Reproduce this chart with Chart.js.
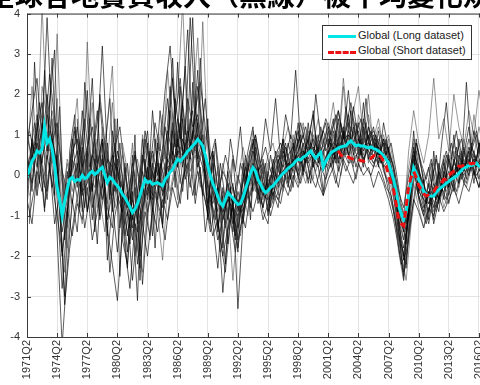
<!DOCTYPE html>
<html>
<head>
<meta charset="utf-8">
<script src="https://cdn.jsdelivr.net/npm/chart.js@4.4.1/dist/chart.umd.min.js"></script>
<style>
  html, body { margin: 0; padding: 0; background: #fff; }
  #wrap { position: relative; width: 480px; height: 385px; overflow: hidden; }
  #titulo {
    position: absolute; left: -13px; top: -20px; white-space: nowrap;
    font: bold 28px "Noto Sans CJK TC", sans-serif; line-height: 28px; color: #000; z-index: 2;
  }
  #grafico { position: absolute; left: 0; top: 0; }
  #legenda {
    position: absolute; left: 322px; top: 25px; width: 148px; height: 33px;
    border: 1px solid #333; background: #fff; z-index: 3;
    font: 11px "Liberation Sans", Arial, sans-serif; color: #222;
  }
  .linha { position: absolute; left: 5px; width: 28px; height: 0; }
  .txt { position: absolute; left: 35px; }
</style>
</head>
<body>
<div id="wrap">
  <div id="titulo">全球各地實質收入（黑線）被平均變化規律所解釋</div>
  <canvas id="grafico" width="500" height="385"></canvas>
  <div id="legenda">
    <div class="linha" style="top:9px;border-top:3px solid #00e5e5;"></div>
    <div class="txt" style="top:3px;">Global (Long dataset)</div>
    <div class="linha" style="top:25px;border-top:3px dashed #ee1111;"></div>
    <div class="txt" style="top:18px;">Global (Short dataset)</div>
  </div>
</div>
<script>
// rótulos do eixo x (a cada 12 trimestres)
const tickLabels = ["1971Q2","1974Q2","1977Q2","1980Q2","1983Q2","1986Q2","1989Q2","1992Q2",
    "1995Q2","1998Q2","2001Q2","2004Q2","2007Q2","2010Q2","2013Q2","2016Q2"];
const xMax = 184;          // ultimo trimestre (indice a partir de 1971Q2)
const shortStart = 124;    // 2002Q2, inicio da serie curta
const paisesPasso = 2;     // series dos paises lidas a cada 2 trimestres

// Global (Long dataset) - trimestral
const globalLong = [
 -0.05,0.15,0.35,0.45,0.6,0.55,0.65,1.2,0.8,0.9,
 0.65,0.25,-0.3,-0.6,-1.0,-0.65,-0.35,-0.1,-0.05,-0.15,
 -0.1,-0.12,0,-0.08,-0.05,0.05,0.1,0.02,0.07,0.15,
 0.2,0.0,-0.18,-0.05,-0.1,-0.2,-0.26,-0.35,-0.47,-0.55,
 -0.67,-0.78,-0.92,-0.84,-0.7,-0.5,-0.3,-0.1,-0.18,-0.15,
 -0.22,-0.2,-0.18,-0.22,-0.26,-0.1,-0.02,0.08,0.15,0.28,
 0.4,0.35,0.42,0.5,0.6,0.65,0.73,0.8,0.89,0.82,
 0.73,0.5,0.23,0.0,-0.2,-0.35,-0.52,-0.68,-0.76,-0.6,
 -0.43,-0.5,-0.56,-0.65,-0.72,-0.7,-0.55,-0.35,-0.15,0.05,
 0.19,0.1,-0.1,-0.22,-0.35,-0.43,-0.38,-0.3,-0.26,-0.18,
 -0.1,-0.02,0.05,0.1,0.18,0.22,0.27,0.35,0.4,0.38,
 0.45,0.48,0.55,0.6,0.5,0.42,0.5,0.56,0.2,0.35,
 0.45,0.55,0.6,0.63,0.68,0.7,0.72,0.73,0.8,0.85,
 0.78,0.73,0.75,0.72,0.73,0.7,0.68,0.7,0.66,0.64,
 0.6,0.55,0.48,0.4,0.31,0.1,-0.1,-0.4,-0.76,-0.95,
 -1.09,-0.92,-0.5,-0.18,0.19,0.05,-0.1,-0.25,-0.4,-0.47,
 -0.5,-0.52,-0.51,-0.42,-0.35,-0.3,-0.25,-0.2,-0.15,-0.1,
 -0.06,-0.02,0.05,0.12,0.19,0.2,0.25,0.24,0.27,0.3,
 0.23,0.25,0.22,0.24,0.2
];

// Global (Short dataset) - a partir de 2002Q2
const globalShort = [
 0.6,0.5,0.45,0.43,0.45,0.42,0.4,0.38,0.4,0.36,
 0.35,0.38,0.4,0.42,0.48,0.52,0.52,0.45,0.35,0.23,
 0.0,-0.2,-0.35,-0.7,-1.1,-1.2,-1.25,-0.8,-0.26,-0.05,
 0.1,-0.05,-0.25,-0.35,-0.45,-0.51,-0.48,-0.43,-0.4,-0.3,
 -0.25,-0.2,-0.1,-0.1,0.0,0.05,0.1,0.15,0.23,0.22,
 0.25,0.28,0.3,0.28,0.3,0.27,0.3,0.28,0.3,0.28,0.27
];

// paises (linhas pretas) - grupo A começa em 1971Q2
const pais1 = [0.8,1.6,2.4,0.9,3.9,1.2,-0.6,-2.8,-1.1,0.4, 1.2,0.3,2.1,-0.4,0.8,3.2,0.5,-0.9,1.4,-1.6,
 -2.2,-0.8,-3.1,0.2,1.1,-0.5,0.6,-1.2,0.9,2.4, 0.7,1.8,3.6,0.9,2.2,1.1,-0.8,0.5,-1.4,-0.3,
 -1.1,0.4,-0.9,-0.2,0.6,1.2,-0.3,-0.8,0.1,-0.6, 0.3,0.9,-0.2,0.6,1.1,0.4,0.9,1.5,0.3,0.8,
 1.2,0.5,1.6,0.9,2.1,0.8,1.3,0.6,1.0,0.4, 1.1,0.2,-0.4,-0.9,-1.6,-2.4,-0.8,0.7,-0.5,-0.9,
 -0.2,-1.1,0.3,-0.6,0.5,-0.3,0.9,0.1,0.6,-0.2,0.8,0.3,0.5];
const pais2 = [-0.3,0.4,1.1,1.8,0.6,2.9,0.2,-1.4,-0.6,0.9, -0.2,1.6,0.3,-1.1,0.2,0.9,-2.1,-0.7,0.4,-0.3,
 -0.9,-2.6,-1.3,-0.6,0.8,-1.5,-0.4,0.7,1.9,0.3, 2.8,0.4,1.2,3.9,0.6,-0.5,1.4,-1.2,-2.3,-0.8,
 -0.2,-1.4,-0.6,-1.2,0.3,-0.4,0.2,-0.9,-1.2,0.1, -0.5,0.6,0.2,-0.3,0.9,0.1,1.3,0.2,0.7,-0.4,
 0.8,1.4,0.3,1.1,0.5,1.7,0.9,0.2,1.2,0.8, 0.3,0.9,0.6,0.2,-1.2,-1.8,-1.0,0.4,0.1,-0.7,
 -1.2,-0.4,-0.9,0.1,-0.3,0.4,0.0,0.7,0.2,1.1,0.4,-0.1,0.6];
const pais3 = [1.2,0.2,-0.5,2.2,1.4,0.3,1.9,-0.2,-1.8,0.2, -0.6,-1.2,0.7,1.8,-0.8,0.4,1.3,2.7,-0.5,0.6,
 -0.4,0.8,-1.8,-2.4,-0.7,0.5,-0.9,-2.1,-0.3,0.8, -0.6,1.3,0.2,2.1,0.5,3.8,0.7,-0.6,0.2,-1.7,
 -0.8,-2.6,-1.1,-0.4,-1.0,0.5,-0.6,0.3,-0.2,-0.7, 0.2,-0.4,0.5,0.1,-0.2,0.8,0.4,-0.1,0.9,0.5,
 0.1,0.9,1.3,0.4,0.8,0.2,1.5,1.1,0.3,0.9, 1.4,0.6,0.9,-0.4,-1.9,-2.6,-1.4,-0.2,-0.8,-1.3,
 -0.5,-0.9,-0.1,-0.8,-0.4,0.2,-0.3,0.5,0.9,0.2,0.6,1.0,0.4];
const pais4 = [0.5,-0.2,0.8,0.3,1.5,0.9,0.2,-1.1,-0.3,0.2, 0.6,-0.4,-0.2,0.5,0.1,-0.6,0.4,0.2,-0.5,-0.9,
 -0.4,-1.3,-0.7,0.1,-0.6,0.3,-0.3,-0.8,0.4,0.1, 0.9,0.2,1.1,0.5,1.3,0.4,-0.2,-0.7,-0.3,-1.1,
 -0.6,-0.2,-1.3,-0.7,0.1,0.6,0.2,-0.5,-0.1,-0.3, 0.4,-0.2,0.5,0.7,0.1,0.8,0.3,0.6,1.0,0.2,
 0.6,0.3,0.9,1.2,0.5,0.8,1.1,0.4,0.7,1.0, 0.5,0.8,0.1,-0.3,-0.9,-1.4,-0.3,0.5,0.2,-0.4,
 -0.7,-0.2,-0.6,0.0,-0.2,0.3,0.1,0.4,0.0,0.5,0.2,0.7,0.3];
const pais5 = [-0.8,0.9,0.2,1.3,-0.4,0.7,-1.5,-4.2,-2.3,-0.6, -1.4,0.3,-0.9,-0.2,-1.7,0.5,-0.8,-1.3,0.2,-0.6,
 -1.9,-0.4,-2.2,-1.0,0.2,-0.9,0.8,0.1,-0.6,1.1, 0.3,-0.4,0.9,1.6,0.2,0.8,-1.1,-0.4,-0.9,-2.9,
 -1.4,-0.6,-1.8,-0.9,-0.2,0.3,-0.7,-0.2,-0.9,-0.4, -0.8,0.1,-0.3,0.4,0.0,0.6,-0.2,0.5,0.2,-0.5,
 0.3,0.7,0.1,0.5,1.0,0.3,0.6,1.2,0.4,0.2, 0.7,0.1,-0.2,-0.8,-1.5,-2.1,-0.9,0.3,-0.3,-0.8,
 -0.4,-1.2,-0.6,-0.2,-0.7,-0.1,0.3,-0.2,0.4,0.1,-0.3,0.5,0.1];
const pais6 = [0.2,0.6,1.0,-0.1,0.7,1.6,0.9,-0.7,0.3,-0.4, 0.4,1.0,-0.5,0.3,0.9,-0.2,0.6,-0.5,0.2,0.8,
 0.1,-0.6,0.4,-0.3,-1.1,0.2,1.0,0.4,2.6,1.1, 1.9,4.3,0.8,1.7,3.4,0.6,1.2,0.1,-0.6,0.3,
 -0.4,0.5,-0.2,0.7,0.2,1.1,0.4,-0.1,0.5,0.8, 0.1,0.7,1.2,0.4,0.9,1.3,0.6,1.0,0.4,0.8,
 1.3,0.8,0.3,0.9,1.4,0.6,1.0,0.5,1.2,0.7, 0.4,1.0,0.5,0.0,-0.6,-1.0,0.2,0.9,0.4,0.0,
 -0.3,0.3,-0.2,0.5,0.2,0.8,0.4,0.1,0.9,0.5,1.2,0.6,0.8];
const pais7 = [-0.6,-1.2,0.1,-0.4,0.5,-0.2,-1.0,-1.9,-0.8,-1.5, -0.7,-1.1,-0.3,-1.6,-0.9,-0.2,-1.3,-2.2,-3.1,-1.4,
 -0.9,-1.6,-0.5,-1.2,-2.0,-0.8,-1.4,-0.6,-1.1,-0.3, -0.8,-0.1,0.3,-0.5,0.1,-0.4,-0.9,-1.5,-1.1,-2.0,
 -1.3,-0.8,-1.6,-1.0,-0.5,-0.9,-0.4,-1.1,-0.7,-0.3, -0.6,-0.2,-0.5,0.0,-0.3,0.2,-0.1,0.3,-0.2,-0.5,
 -0.1,0.2,-0.3,0.4,0.1,-0.2,0.3,0.0,0.2,-0.3, 0.1,-0.2,-0.6,-1.1,-1.8,-2.5,-1.6,-0.6,-0.9,-1.3,
 -0.8,-1.0,-0.5,-0.9,-0.6,-0.3,-0.7,-0.2,-0.4,0.1,-0.3,0.2,-0.1];
const pais8 = [1.0,0.4,1.5,0.7,2.0,0.8,1.3,0.1,-0.4,0.6, 0.9,0.2,0.7,1.2,0.3,0.9,-0.1,0.5,0.0,-0.3,
 -0.8,0.3,-0.4,0.5,-0.1,0.6,0.0,0.4,1.1,0.5, 1.4,0.6,1.9,1.2,1.5,0.7,0.2,0.6,-0.4,0.1,
 -0.2,-0.7,0.0,-0.5,0.4,0.9,0.1,0.3,-0.4,0.2, 0.5,0.2,0.8,0.3,0.6,1.0,0.5,0.9,0.6,1.1,
 0.7,1.2,1.6,0.9,1.3,1.0,0.7,1.4,0.9,1.1, 0.8,0.4,0.7,0.2,-0.4,-0.8,0.0,0.6,0.1,-0.2,
 0.2,-0.5,0.1,-0.3,0.4,0.0,0.5,0.2,0.7,0.3,0.6,0.9,0.4];
const pais9 = [0.3,2.2,0.6,4.2,1.1,0.5,3.5,0.2,-1.3,0.8, 1.9,-0.4,3.3,0.6,-0.5,1.2,0.3,1.8,-0.2,0.5,
 -1.0,0.4,-0.6,1.0,0.3,-0.8,0.5,1.5,-0.4,0.6, 1.1,-0.2,0.7,0.3,1.4,0.5,-0.5,0.2,-0.9,-0.4,
 -1.0,-0.3,-0.8,0.2,-0.4,0.4,0.0,-0.6,0.3,-0.1, 0.6,0.0,0.4,1.0,0.3,0.7,1.1,0.2,0.6,0.9,
 0.4,1.0,0.6,2.2,0.8,1.4,0.5,0.9,2.0,0.6, 0.9,0.3,0.5,-0.1,-0.8,-1.6,-0.5,0.8,0.0,-0.5,
 -0.3,0.4,-0.5,0.2,-0.1,0.6,0.2,0.9,0.3,1.5,0.7,0.4,1.0];
const pais10 = [-0.2,0.8,-0.5,0.4,1.0,-0.3,0.5,-1.0,0.1,-0.7, 0.3,-0.5,0.6,-0.8,-0.2,0.4,-1.1,-0.4,0.6,0.0,
 -1.5,-0.6,-1.1,-0.2,-0.9,-0.3,0.3,-0.5,0.0,0.6, 0.2,0.9,0.4,1.1,0.6,0.2,-0.3,-0.9,-1.6,-1.1,
 -0.5,-1.2,-0.4,-0.9,-0.3,0.2,-0.4,-0.8,-0.2,-0.5, 0.0,-0.3,0.3,0.1,0.5,0.2,0.7,0.4,0.2,0.6,
 0.9,0.4,0.8,0.5,1.1,0.7,0.4,0.9,0.6,0.3, 0.6,0.2,0.4,-0.3,-1.0,-1.3,-0.7,0.1,-0.4,-0.6,
 -0.9,-0.3,-0.6,-0.2,0.1,-0.4,0.2,0.0,0.3,0.6,0.1,0.4,0.2];
const pais11 = [0.6,-0.4,1.3,0.2,-0.6,0.9,0.3,-2.0,-0.9,0.4, -0.3,0.7,-0.9,0.5,1.6,-0.3,0.8,-0.7,-1.9,-0.6,
 0.3,-1.1,-0.4,-2.7,-1.0,0.1,-0.6,0.5,-0.2,1.3, 0.5,1.8,0.6,0.9,2.6,0.3,-0.7,0.3,-1.3,-0.5,
 -1.7,-0.6,-3.3,-1.2,-0.3,0.1,-0.5,0.4,-0.3,0.2, -0.2,0.5,0.1,0.8,-0.1,0.4,0.9,0.3,0.6,0.1,
 0.5,1.1,0.4,0.7,1.5,0.5,0.9,0.3,0.8,1.2, 0.4,0.9,0.3,-0.5,-1.4,-2.0,-0.9,0.2,-0.6,-1.0,
 -0.4,-0.8,-0.2,0.3,-0.5,0.1,-0.2,0.6,0.1,0.4,-0.1,0.5,0.2];
const pais12 = [0.1,0.5,-0.3,0.9,0.4,1.4,-0.2,-0.9,0.4,-0.1, 0.2,0.9,0.1,-0.4,0.5,0.0,-0.7,0.6,0.3,-1.2,
 -0.5,0.1,-1.0,-0.4,0.2,-0.2,0.4,-0.3,0.6,0.2, 0.8,0.3,0.5,1.0,0.2,0.6,0.0,-0.4,0.1,-0.6,
 -0.9,-0.3,-0.7,-0.1,-0.5,0.6,-0.2,0.1,-0.6,0.0, 0.3,0.7,0.1,0.9,0.5,1.2,0.6,0.8,1.4,0.7,
 1.0,1.8,0.8,2.4,1.1,1.6,2.2,0.9,1.5,0.8, 1.2,0.7,1.0,0.3,-0.5,-1.1,0.6,1.6,0.8,0.3,
 1.0,2.4,0.9,1.4,0.6,2.0,1.2,0.7,1.6,1.0,2.1,1.3,0.9];
const pais13 = [null,null,null,null,null,null,null,null,null,null, null,null,null,null,null,null,null,null,null,null,
 -0.6,-1.0,-1.4,-0.8,-0.3,-0.6,-0.1,-0.4,0.2,0.3, 0.6,0.5,0.9,0.7,1.0,0.8,0.3,-0.3,-0.7,-0.9,
 -0.6,-0.8,-1.0,-0.7,-0.3,0.3,-0.2,-0.5,-0.6,-0.3, -0.1,0.1,0.3,0.2,0.5,0.6,0.4,0.7,0.5,0.3,
 0.6,0.8,0.7,0.9,1.0,0.8,0.9,0.7,0.8,0.6, 0.7,0.5,0.3,-0.2,-1.1,-1.6,-0.8,0.3,-0.2,-0.6,
 -0.7,-0.5,-0.3,-0.4,-0.1,0.0,0.2,0.3,0.2,0.4,0.3,0.2,0.5];
const pais14 = [null,null,null,null,null,null,null,null,null,null, 1.4,-0.9,0.6,2.4,-0.3,0.8,-1.5,1.1,0.2,-0.8,
 -2.3,0.5,-1.2,0.9,-0.5,1.6,0.1,-1.3,0.7,2.9, 0.2,1.4,-0.6,2.3,0.4,1.0,-1.0,0.6,-0.3,-1.8,
 0.1,-0.8,-1.9,0.3,-0.4,0.8,-0.6,0.2,-1.0,0.4, -0.3,0.9,-0.1,0.4,1.3,0.0,0.7,1.6,0.3,0.5,
 1.1,0.2,1.4,0.6,0.3,1.2,0.5,1.8,0.4,0.9, 0.2,1.3,0.6,-0.2,-1.3,-2.6,-0.6,1.1,-0.4,-0.1,
 -1.1,0.6,-0.7,0.4,-0.3,1.0,-0.2,0.5,1.2,0.0,0.8,-0.4,0.6];

// grupo B começa em 1971Q3 (trimestres intercalados)
const pais15 = [0.4,1.3,-0.2,2.6,0.8,-0.5,1.7,-1.6,-0.3,1.1, 0.2,-0.8,1.4,0.3,-1.0,0.6,1.9,-0.4,0.8,-1.1,
 -1.7,-0.3,-2.0,0.4,-0.6,0.9,-0.2,1.2,0.4,1.9, 0.9,2.7,0.4,1.6,0.8,1.9,0.1,-0.8,-0.2,-1.3,
 -0.7,-1.5,-0.4,0.2,-0.8,0.7,0.1,-0.4,0.5,-0.2, 0.4,0.8,-0.1,0.6,1.0,0.3,0.8,0.5,1.2,0.6,
 0.9,0.4,1.3,0.7,1.6,0.9,0.5,1.1,0.6,0.9, 0.3,0.7,0.2,-0.6,-1.7,-2.2,-0.4,0.9,0.2,-0.6,
 -0.3,0.5,-0.4,0.3,0.8,0.1,0.6,-0.1,0.7,1.1,0.4,0.8];
const pais16 = [-0.5,0.2,0.9,-0.3,1.1,0.4,-0.9,-2.4,-1.3,-0.2, -0.9,0.5,-0.4,0.9,-0.6,-1.4,0.3,-0.8,-0.2,-1.5,
 -0.8,-2.0,-1.2,-0.3,-1.6,-0.5,-1.0,0.2,-0.4,0.3, -0.2,0.8,0.1,0.5,-0.3,0.6,-0.6,-1.0,-1.9,-1.2,
 -0.4,-1.0,-1.5,-0.6,0.0,-0.4,0.3,-0.3,-0.8,-0.4, -0.2,0.3,-0.1,0.5,0.2,-0.2,0.4,0.1,0.6,0.3,
 0.2,0.5,0.0,0.7,0.3,0.5,0.1,0.6,0.4,0.2, 0.5,0.0,-0.3,-0.9,-1.9,-2.6,-1.2,-0.3,-0.7,-1.1,
 -0.6,-0.9,-0.4,-0.7,-0.2,-0.5,0.0,-0.3,0.2,-0.1,0.3,0.0];
const pais17 = [1.1,0.5,1.8,0.9,2.5,1.4,0.6,-0.5,0.3,1.2, 0.5,1.4,0.2,0.9,1.8,0.4,-0.3,0.7,1.2,0.1,
 -0.6,0.5,-0.2,0.9,0.2,1.3,0.6,2.1,3.2,1.4, 2.4,1.0,3.9,1.6,2.3,1.2,0.4,0.9,-0.2,0.5,
 0.0,-0.6,0.3,-0.2,0.6,1.0,0.3,0.7,0.1,0.5, 0.8,0.4,1.0,0.6,1.3,0.7,1.1,0.5,0.9,1.4,
 1.0,1.5,0.7,1.2,1.8,1.0,1.4,0.8,1.1,0.6, 1.0,0.5,0.8,0.1,-0.7,-1.2,0.1,0.8,0.3,-0.1,
 0.4,-0.3,0.2,0.6,0.1,0.5,0.9,0.3,0.7,0.4,1.0,0.6];
const pais18 = [-1.0,-0.3,0.6,-0.8,0.3,-1.2,-0.5,-3.2,-1.8,-0.9, -0.2,-1.3,-0.5,0.4,-1.1,-0.3,-2.4,-1.0,-0.4,-1.8,
 -2.8,-1.2,-2.3,-0.9,-1.5,-0.4,-0.9,-1.6,-0.5,0.1, -0.7,0.4,-0.3,0.8,0.0,-0.6,-1.4,-0.8,-1.6,-2.4,
 -1.1,-1.9,-0.8,-1.3,-0.4,-0.1,-0.7,-0.3,-1.0,-0.5, -0.7,0.0,-0.4,0.2,-0.2,0.4,0.0,-0.3,0.2,-0.1,
 0.3,-0.2,0.5,0.1,0.4,-0.1,0.6,0.2,0.0,0.4, 0.1,-0.3,-0.5,-1.3,-2.2,-1.9,-1.0,-0.2,-0.8,-1.2,
 -0.5,-0.8,-0.3,-0.6,0.0,-0.4,0.1,-0.2,0.3,0.0,0.2,-0.1];
const pais19 = [0.2,0.7,0.4,1.0,0.6,1.3,0.2,-0.6,-0.1,0.3, -0.2,0.4,0.0,-0.3,0.5,0.1,-0.4,0.3,-0.1,-0.6,
 -0.9,-0.3,-0.7,0.0,-0.4,0.2,-0.1,0.3,0.1,0.5, 0.3,0.8,0.5,1.0,0.7,0.4,-0.1,-0.5,-0.9,-0.6,
 -1.0,-0.5,-0.8,-0.2,-0.5,0.1,-0.2,-0.4,0.0,-0.2, 0.1,0.3,0.2,0.5,0.3,0.7,0.5,0.6,0.9,0.4,
 0.7,0.9,0.6,1.0,0.8,0.6,0.9,0.7,0.5,0.8, 0.4,0.6,0.1,-0.4,-1.2,-1.5,-0.5,0.2,-0.3,-0.5,
 -0.4,-0.6,-0.2,-0.4,0.0,0.2,0.0,0.3,0.1,0.4,0.2,0.3];
const pais20 = [null,null,null,null,null,null,null,null,null,null, null,null,null,null,null,null,
 -0.5,0.8,-1.3,0.2,-0.9, 0.6,-0.4,1.1,0.3,-0.2,1.6,0.4,2.2,0.7,1.3, -0.1,0.5,-0.7,0.2,-1.4,-0.5,-1.1,0.3,-0.6,0.9,
 0.1,1.2,-0.3,0.5,1.0,0.2,1.4,0.6,1.9,0.4, 1.5,0.9,2.6,0.8,1.2,0.5,2.0,0.9,1.3,0.2,
 1.1,0.4,1.7,0.8,1.3,0.6,1.9,0.7,1.0,0.4, 0.9,0.2,-0.4,-1.6,-2.3,-0.7,0.8,0.2,-0.5,0.3,
 -0.6,0.7,1.8,0.4,1.1,0.2,2.3,0.6,1.0,0.3,1.6];
const pais21 = [-1.2,2.8,0.4,-0.9,1.8,3.1,-0.8,-3.0,0.6,1.5, -0.8,2.3,0.5,-1.4,2.0,0.8,-0.6,1.4,-2.5,0.3,
 -1.3,1.0,-2.6,-0.4,0.6,-1.8,0.3,-0.7,1.6,-0.3, 2.2,0.4,1.4,-0.5,2.9,0.6,-1.2,0.8,-0.6,-2.2,
 -0.3,-1.6,-0.7,0.5,-1.1,0.9,-0.4,0.3,-0.8,0.6, -0.1,0.7,0.2,1.1,0.3,0.6,-0.2,1.0,0.5,0.2,
 0.8,0.3,1.0,0.5,0.9,0.2,0.7,1.3,0.5,0.8, 0.3,0.8,0.4,-0.2,-1.0,-1.7,-0.4,0.6,-0.2,-0.7,
 -0.2,0.4,-0.4,0.5,0.0,0.7,-0.1,0.4,0.8,0.2,0.5,0.7];
const pais22 = [null,null,null,null,null,null,null,null,null,null, null,null,null,null,null,null,null,null,null,null,
 null,null,null,null,-0.2,0.1,-0.3,0.2,0.5,0.3, 0.7,0.5,0.9,0.6,0.8,0.4,0.1,-0.3,-0.6,-0.8,
 -0.5,-0.7,-0.9,-0.4,-0.2,0.2,-0.1,-0.3,-0.4,-0.2, 0.0,0.2,0.1,0.4,0.3,0.5,0.4,0.6,0.7,0.4,
 0.5,0.7,0.8,0.6,0.9,0.7,0.8,0.6,0.7,0.5, 0.6,0.4,0.2,-0.3,-0.9,-1.4,-0.6,0.2,-0.1,-0.4,
 -0.5,-0.4,-0.2,-0.3,0.0,0.1,0.2,0.3,0.2,0.4,0.3,0.4];

const paisesA = [pais1, pais2, pais3, pais4, pais5, pais6, pais7, pais8, pais9, pais10, pais11, pais12, pais13, pais14];
const paisesB = [pais15, pais16, pais17, pais18, pais19, pais20, pais21, pais22];

function pontos(valores, inicio, passo) {
    return valores.map((v, i) => ({ x: inicio + i * passo, y: v }));
}

var datasets = [
    {
        label: "Global (Short dataset)",
        data: pontos(globalShort, shortStart, 1),
        borderColor: "#ee1111", borderWidth: 3, borderDash: [7, 5], order: 0
    },
    {
        label: "Global (Long dataset)",
        data: pontos(globalLong, 0, 1),
        borderColor: "#00e5e5", borderWidth: 3, order: 1
    }
];
function addPais(p, i, inicio) {
    datasets.push({
        label: "pais",
        data: pontos(p, inicio, paisesPasso),
        borderColor: i % 3 == 2 ? "rgba(70,70,70,0.7)" : "rgba(0,0,0,0.8)",
        borderWidth: 0.8, order: 2
    });
}
paisesA.forEach((p, i) => addPais(p, i, 0));
paisesB.forEach((p, i) => addPais(p, i + 1, 1));

// moldura e marcas internas (estilo matlab)
const moldura = {
    id: "moldura",
    afterDraw(chart) {
        const c = chart.ctx, a = chart.chartArea;
        const sx = chart.scales.x, sy = chart.scales.y;
        c.save();
        c.strokeStyle = "#3a3a3a";
        c.lineWidth = 1;
        c.beginPath();
        sx.ticks.forEach(function (t) {
            var px = Math.round(sx.getPixelForValue(t.value)) + 0.5;
            c.moveTo(px, a.bottom); c.lineTo(px, a.bottom - 4);
            c.moveTo(px, a.top); c.lineTo(px, a.top + 4);
        });
        sy.ticks.forEach(function (t) {
            var py = Math.round(sy.getPixelForValue(t.value)) + 0.5;
            c.moveTo(a.left, py); c.lineTo(a.left + 4, py);
        });
        c.stroke();
        c.strokeRect(a.left + 0.5, a.top + 0.5, a.right - a.left, a.bottom - a.top);
        c.restore();
    }
};

var ctx = document.getElementById("grafico").getContext("2d");
var myChart = new Chart(ctx, {
    type: "line",
    data: { datasets: datasets },
    options: {
        responsive: false,
        animation: false,
        spanGaps: false,
        elements: { point: { radius: 0 }, line: { tension: 0 } },
        layout: { padding: { top: 13, right: 11, left: 0, bottom: 0 } },
        plugins: { legend: { display: false }, tooltip: { enabled: false } },
        scales: {
            x: {
                type: "linear",
                min: 0,
                max: xMax,
                afterBuildTicks: function (scale) {
                    scale.ticks = tickLabels.map((l, i) => ({ value: i * 12 }));
                },
                afterFit: function (scale) { scale.height = 48; },
                grid: { color: "#e4e4e4", drawTicks: false },
                border: { display: false },
                ticks: {
                    autoSkip: false,
                    minRotation: 90,
                    maxRotation: 90,
                    padding: 3,
                    color: "#333",
                    font: { family: "Liberation Sans", size: 11 },
                    callback: function (v) { return tickLabels[Math.round(v / 12)]; }
                }
            },
            y: {
                min: -4,
                max: 4,
                afterFit: function (scale) { scale.width = 27; },
                grid: { color: "#e4e4e4", drawTicks: false },
                border: { display: false },
                ticks: {
                    stepSize: 1,
                    padding: 7,
                    color: "#333",
                    font: { family: "Liberation Sans", size: 11 }
                }
            }
        }
    },
    plugins: [moldura]
});
</script>
</body>
</html>
